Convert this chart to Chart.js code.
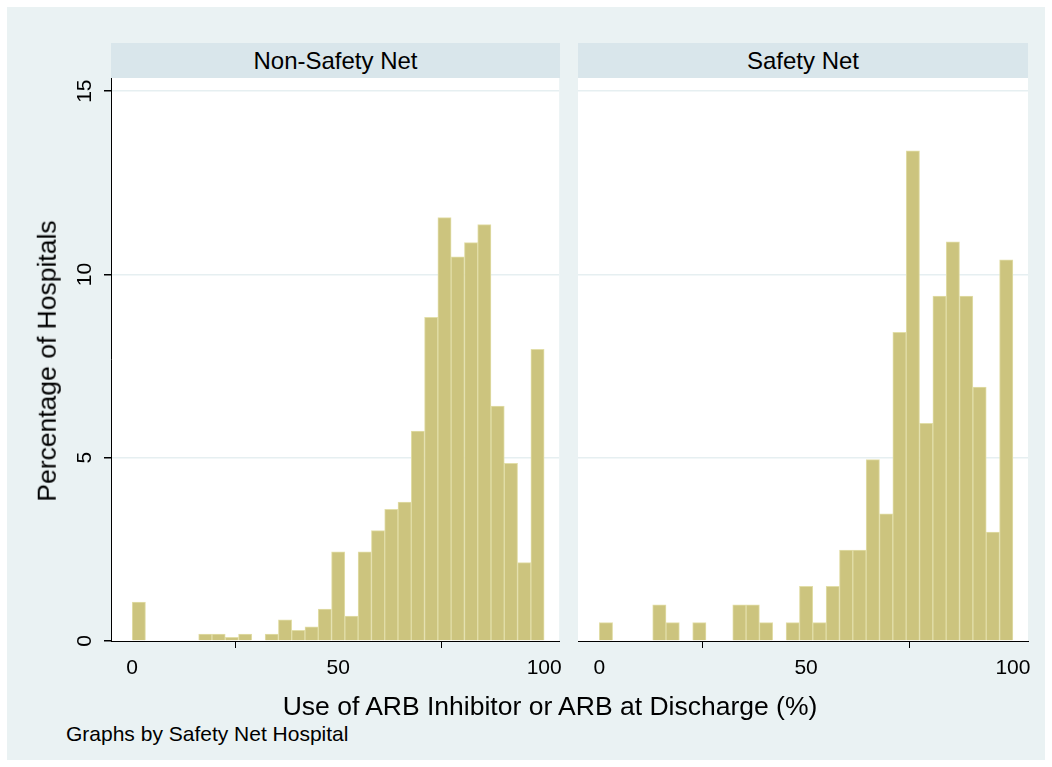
<!DOCTYPE html>
<html>
<head>
<meta charset="utf-8">
<script src="https://cdn.jsdelivr.net/npm/chart.js@4"></script>
<style>
  html, body { margin: 0; padding: 0; background: #ffffff; }
  body { width: 1052px; height: 767px; position: relative; overflow: hidden; font-family: "Liberation Sans", Arial, sans-serif; }
  #bg { position: absolute; left: 7px; top: 7px; width: 1038px; height: 753px; background: #EAF2F3; }
  .strip { position: absolute; top: 43px; height: 35px; line-height: 35px; background: #D9E6EB; text-align: center; font-size: 24px; color: #000; }
  canvas { position: absolute; }
  .txt { position: absolute; color: #000; white-space: nowrap; }
</style>
</head>
<body>
<div id="bg"></div>
<div class="strip" id="stripL" style="left:111px; width:449px;"></div>
<div class="strip" id="stripR" style="left:578px; width:450px;"></div>
<canvas id="cL" width="570" height="622" style="left:0px; top:78px;"></canvas>
<canvas id="cR" width="482" height="622" style="left:570px; top:78px;"></canvas>
<div class="txt" id="ytitle" style="left:47px; top:361px; font-size:26.5px; line-height:26.5px; transform: translate(-50%,-50%) rotate(-90deg);"></div>
<div class="txt" id="xtitle" style="left:250px; width:600px; top:693px; font-size:26.5px; line-height:26.5px; text-align:center;"></div>
<div class="txt" id="note" style="left:66px; top:723px; font-size:21px; line-height:21px;"></div>
<script>
// ---- Data ----
const panelTitles = ["Non-Safety Net", "Safety Net"];
const yTitle = "Percentage of Hospitals";
const xTitle = "Use of ARB Inhibitor or ARB at Discharge (%)";
const noteText = "Graphs by Safety Net Hospital";

// histogram bin midpoints (31 bins, 0-100)
const binMid = [1.61, 4.84, 8.06, 11.29, 14.52, 17.74, 20.97, 24.19, 27.42, 30.65,
                33.87, 37.10, 40.32, 43.55, 46.77, 50.00, 53.23, 56.45, 59.68, 62.90,
                66.13, 69.35, 72.58, 75.81, 79.03, 82.26, 85.48, 88.71, 91.94, 95.16, 98.39];

const nonSafetyNet = [1.06, null, null, null, null, 0.19, 0.19, 0.10, 0.19, null,
                      0.19, 0.58, 0.29, 0.39, 0.87, 2.43, 0.68, 2.43, 3.01, 3.59,
                      3.79, 5.73, 8.83, 11.55, 10.48, 10.87, 11.36, 6.41, 4.85, 2.14, 7.96];

const safetyNet = [0.50, null, null, null, 0.99, 0.50, null, 0.50, null, null,
                   0.99, 0.99, 0.50, null, 0.50, 1.49, 0.50, 1.49, 2.48, 2.48,
                   4.95, 3.47, 8.42, 13.37, 5.94, 9.41, 10.89, 9.41, 6.93, 2.97, 10.40];

const xTicks = [0, 50, 100];
const yTicks = [0, 5, 10, 15];

// ---- Text ----
document.getElementById('stripL').textContent = panelTitles[0];
document.getElementById('stripR').textContent = panelTitles[1];
document.getElementById('ytitle').textContent = yTitle;
document.getElementById('xtitle').textContent = xTitle;
document.getElementById('note').textContent = noteText;

Chart.defaults.font.family = '"Liberation Sans", Arial, sans-serif';

const FILL = 'rgb(204,196,126)';
const EDGE = 'rgb(226,222,168)';
const GRID = '#E6EFF1';

const plotBg = {
  id: 'plotBg',
  beforeDraw(chart) {
    const a = chart.chartArea, ctx = chart.ctx;
    ctx.save();
    ctx.fillStyle = '#ffffff';
    ctx.fillRect(a.left, a.top, a.right - a.left, a.bottom - a.top);
    ctx.restore();
  }
};

const rotYLabels = {
  id: 'rotYLabels',
  afterDraw(chart, args, opts) {
    if (!opts.show) return;
    const s = chart.scales.y, ctx = chart.ctx;
    ctx.save();
    ctx.fillStyle = '#000';
    ctx.font = '21px "Liberation Sans", Arial, sans-serif';
    ctx.textAlign = 'center';
    ctx.textBaseline = 'alphabetic';
    s.ticks.forEach(t => {
      const py = s.getPixelForValue(t.value);
      ctx.save();
      ctx.translate(91, py);
      ctx.rotate(-Math.PI / 2);
      ctx.fillText(String(t.value), 0, 0);
      ctx.restore();
    });
    ctx.restore();
  }
};

function makeChart(id, values, isLeft) {
  const data = binMid.map((x, i) => ({ x: x, y: values[i] }));
  return new Chart(document.getElementById(id), {
    type: 'bar',
    data: {
      datasets: [{
        data: data,
        backgroundColor: FILL,
        borderColor: EDGE,
        borderWidth: 1,
        barPercentage: 1.0,
        categoryPercentage: 1.0
      }]
    },
    options: {
      responsive: false,
      animation: false,
      devicePixelRatio: 1,
      layout: { padding: { left: 0, top: 0, right: isLeft ? 10 : 24, bottom: 0 } },
      plugins: { legend: { display: false }, tooltip: { enabled: false }, rotYLabels: { show: isLeft } },
      scales: {
        x: {
          type: 'linear',
          offset: false,
          min: -5.15,
          max: 103.65,
          afterBuildTicks: s => { s.ticks = xTicks.map(v => ({ value: v })); },
          afterFit: s => { s.height = 59; },
          border: { display: true, color: '#000', width: 1 },
          grid: { display: true, drawOnChartArea: false, drawTicks: true, tickLength: 7, tickColor: '#000', tickWidth: 1 },
          ticks: { color: '#000', font: { size: 21 }, padding: 8, maxRotation: 0, autoSkip: false }
        },
        y: {
          type: 'linear',
          min: 0,
          max: 15.36,
          afterBuildTicks: s => { s.ticks = yTicks.map(v => ({ value: v })); },
          afterFit: s => { s.width = isLeft ? 111 : 8; },
          border: { display: isLeft, color: '#000', width: 1 },
          grid: {
            display: true,
            drawOnChartArea: true,
            drawTicks: isLeft,
            tickLength: 7,
            tickColor: '#000',
            lineWidth: 1.5,
            color: c => (c.tick && c.tick.value === 0) ? 'rgba(0,0,0,0)' : GRID
          },
          ticks: { display: false }
        }
      }
    },
    plugins: [plotBg, rotYLabels]
  });
}

makeChart('cL', nonSafetyNet, true);
makeChart('cR', safetyNet, false);
</script>
</body>
</html>
